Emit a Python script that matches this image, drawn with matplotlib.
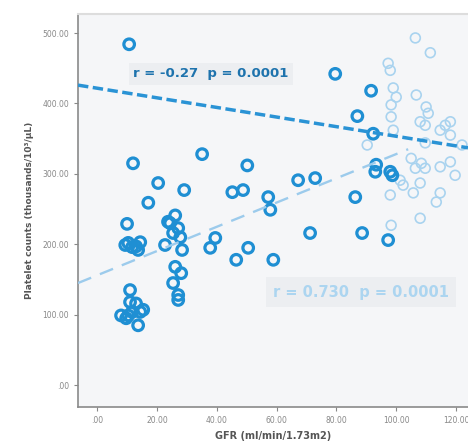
import matplotlib
matplotlib.use("Agg")
import matplotlib.pyplot as plt
import numpy as np

# Dark (bold) group
dark_x = [10.7, 79.6, 91.6, 87.0, 92.3, 12.0, 35.1, 50.2, 20.4, 29.1, 17.1, 10.0,
          45.2, 48.8, 57.2, 57.9, 67.2, 72.9, 86.3, 93.3, 93.0, 98.0, 98.7, 88.6,
          97.3, 71.2, 39.5, 37.8, 50.5, 46.5, 58.9,
          9.4, 11.7, 14.4, 13.7, 10.4, 13.0,
          24.4, 25.4, 27.8, 22.7, 28.4, 26.1, 23.7, 27.1,
          26.1, 28.1, 25.4, 27.1, 27.1,
          11.0, 11.0, 13.0, 8.0, 10.4, 14.4, 15.4, 13.7, 9.7, 11.7]
dark_y = [484, 442, 418, 382, 357, 315, 328, 312, 287, 277, 259, 229,
          274, 277, 267, 249, 291, 294, 267, 313, 303, 303, 298, 216,
          206, 216, 209, 195, 195, 178, 178,
          199, 196, 203, 192, 202, 197,
          230, 216, 210, 199, 192, 241, 232, 223,
          168, 159, 145, 128, 121,
          135, 118, 116, 99, 99, 104, 107, 85, 95, 104]

# Light (thin) group
light_x = [106.4, 111.4, 97.3, 98.0, 106.7, 99.0, 100.0, 98.3, 98.3, 110.0, 110.7,
           108.0, 118.1, 109.7, 116.4, 114.7, 118.1, 109.7, 105.0, 108.4, 106.4,
           109.7, 114.7, 118.1, 108.0, 102.3, 98.0, 114.7, 113.4, 108.0, 98.3,
           99.0, 90.3, 101.3, 105.7, 122.0, 119.7]
light_y = [493, 472, 457, 447, 412, 422, 409, 398, 381, 395, 386,
           374, 374, 369, 369, 362, 355, 344, 322, 315, 308,
           308, 310, 317, 287, 284, 270, 273, 260, 237, 227,
           362, 341, 291, 273, 341, 298]

# Fit lines (end points)
line1_x = [-6.4, 124.0]
line1_y = [426, 337]
line2_x = [-6.4, 104.0]
line2_y = [145, 335]

x_ticks = [0, 20, 40, 60, 80, 100, 120]
x_tick_labels = [".00", "20.00", "40.00", "60.00", "80.00", "100.00", "120.00"]
y_ticks = [0, 100, 200, 300, 400, 500]
y_tick_labels = [".00", "100.00", "200.00", "300.00", "400.00", "500.00"]

fig = plt.figure(figsize=(4.68, 4.47), dpi=100)
ax = fig.add_axes([0.1667, 0.0895, 0.8333, 0.8792])
ax.set_facecolor("#f5f6f8")

ax.scatter(light_x, light_y, s=50, facecolors="none", edgecolors="#a9d3ef",
           linewidths=1.2, zorder=2)
ax.scatter(dark_x, dark_y, s=58, facecolors="none", edgecolors="#1f8fd3",
           linewidths=2.3, zorder=3)

ax.plot(line1_x, line1_y, color="#2a93d5", lw=2.5, dashes=(3.0, 1.3), zorder=4)
ax.plot(line2_x, line2_y, color="#9ccbec", lw=1.7, dashes=(6, 4), zorder=4)

ax.text(-6.4 + 18.5, 442, "r = -0.27  p = 0.0001", fontsize=9.5, fontweight="bold",
        color="#1e73ad", va="center", ha="left", zorder=5,
        bbox=dict(boxstyle="square,pad=0.35", fc="#eceef1", ec="none"))
ax.text(58.8, 132, "r = 0.730  p = 0.0001", fontsize=10.5, fontweight="bold",
        color="#acd5f0", va="center", ha="left", zorder=5,
        bbox=dict(boxstyle="square,pad=0.5", fc="#eceef1", ec="none"))

ax.set_xlim(-6.4, 124)
ax.set_ylim(-31, 527)
ax.set_xticks(x_ticks)
ax.set_xticklabels(x_tick_labels)
ax.set_yticks(y_ticks)
ax.set_yticklabels(y_tick_labels)
ax.tick_params(axis="both", labelsize=5.5, colors="#888888", length=3, width=0.8,
               direction="out")

for s in ["left", "bottom"]:
    ax.spines[s].set_color("#8a8a8a")
    ax.spines[s].set_linewidth(1.2)
ax.spines["top"].set_color("#dddddd")
ax.spines["top"].set_linewidth(1.5)
ax.spines["right"].set_visible(False)

ax.set_xlabel("GFR (ml/min/1.73m2)", fontsize=7, fontweight="bold", color="#555555",
              labelpad=4)
ax.set_ylabel("Platelet counts (thousands/10³/µL)", fontsize=6.5, fontweight="bold",
              color="#555555", labelpad=6)

fig.savefig("out.png", dpi=100)
